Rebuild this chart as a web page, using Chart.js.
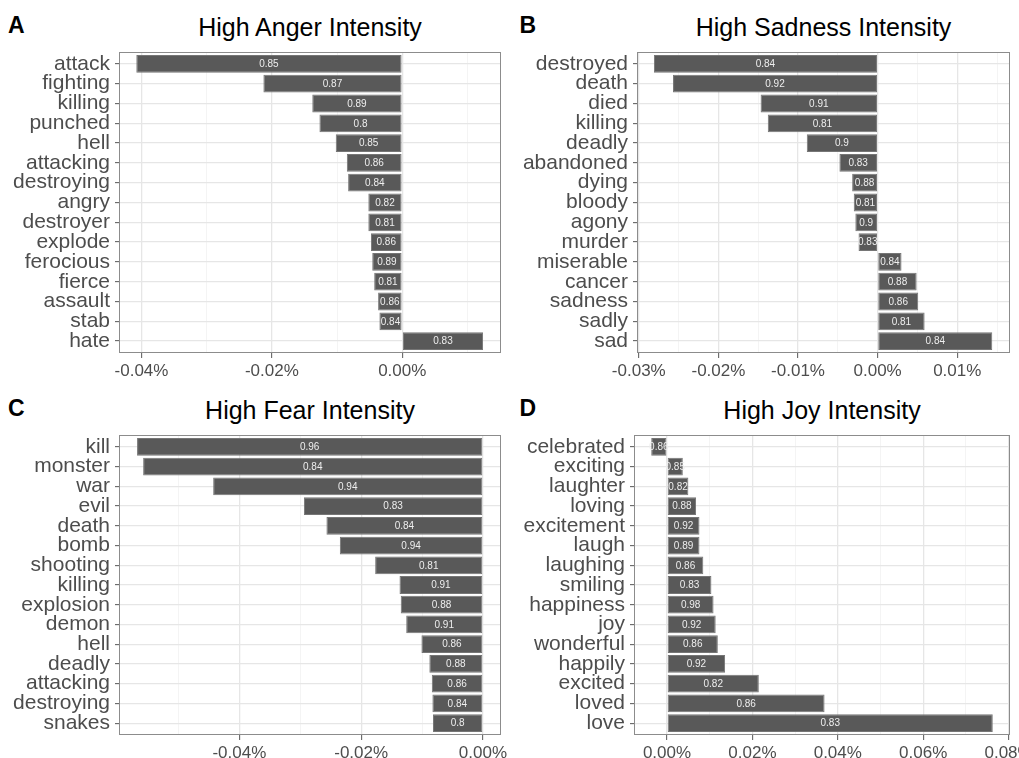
<!DOCTYPE html>
<html><head><meta charset="utf-8">
<script src="https://cdn.jsdelivr.net/npm/chart.js@4.4.1/dist/chart.umd.min.js"></script>
<style>
html,body{margin:0;padding:0;background:#fff;overflow:hidden;width:1019px;height:758px;position:relative;}
canvas{position:absolute;}
.title{position:absolute;font-family:"Liberation Sans",Arial,sans-serif;font-size:25px;line-height:25px;color:#000;text-align:center;white-space:nowrap;}
.letter{position:absolute;font-family:"Liberation Sans",Arial,sans-serif;font-weight:bold;font-size:23px;line-height:23px;color:#000;}
</style></head><body>
<div class="letter" style="left:8px;top:14px;">A</div>
<div class="letter" style="left:519.5px;top:14px;">B</div>
<div class="letter" style="left:8px;top:397px;">C</div>
<div class="letter" style="left:519.5px;top:397px;">D</div>
<div class="title" style="left:120px;width:380px;top:15px;">High Anger Intensity</div>
<div class="title" style="left:638px;width:371px;top:15px;">High Sadness Intensity</div>
<div class="title" style="left:120px;width:380px;top:398px;">High Fear Intensity</div>
<div class="title" style="left:635px;width:374px;top:398px;">High Joy Intensity</div>
<script>
const angerWords = ['attack','fighting','killing','punched','hell','attacking','destroying','angry','destroyer','explode','ferocious','fierce','assault','stab','hate'];
const angerValues = [-0.0408,-0.0213,-0.0138,-0.0127,-0.0102,-0.0085,-0.0083,-0.0052,-0.0052,-0.0048,-0.0046,-0.0043,-0.0037,-0.0035,0.0124];
const angerCorr = [0.85,0.87,0.89,0.8,0.85,0.86,0.84,0.82,0.81,0.86,0.89,0.81,0.86,0.84,0.83];
const angerTicks = [-0.04,-0.03,-0.02,-0.01,0,0.01];
const angerTickLabels = ['-0.04%','','-0.02%','','0.00%',''];

const sadnessWords = ['destroyed','death','died','killing','deadly','abandoned','dying','bloody','agony','murder','miserable','cancer','sadness','sadly','sad'];
const sadnessValues = [-0.0281,-0.0257,-0.0147,-0.0138,-0.0089,-0.0048,-0.0032,-0.0030,-0.0028,-0.0024,0.0030,0.0049,0.0051,0.0059,0.0144];
const sadnessCorr = [0.84,0.92,0.91,0.81,0.9,0.83,0.88,0.81,0.9,0.83,0.84,0.88,0.86,0.81,0.84];
const sadnessTicks = [-0.03,-0.025,-0.02,-0.015,-0.01,-0.005,0,0.005,0.01,0.015];
const sadnessTickLabels = ['-0.03%','','-0.02%','','-0.01%','','0.00%','','0.01%',''];

const fearWords = ['kill','monster','war','evil','death','bomb','shooting','killing','explosion','demon','hell','deadly','attacking','destroying','snakes'];
const fearValues = [-0.0568,-0.0558,-0.0443,-0.0294,-0.0257,-0.0235,-0.0177,-0.0137,-0.0135,-0.0126,-0.0101,-0.0088,-0.0084,-0.0083,-0.0082];
const fearCorr = [0.96,0.84,0.94,0.83,0.84,0.94,0.81,0.91,0.88,0.91,0.86,0.88,0.86,0.84,0.8];
const fearTicks = [-0.05,-0.04,-0.03,-0.02,-0.01,0];
const fearTickLabels = ['','-0.04%','','-0.02%','','0.00%'];

const joyWords = ['celebrated','exciting','laughter','loving','excitement','laugh','laughing','smiling','happiness','joy','wonderful','happily','excited','loved','love'];
const joyValues = [-0.0037,0.0037,0.0050,0.0068,0.0076,0.0076,0.0085,0.0104,0.0109,0.0114,0.0119,0.0136,0.0215,0.0369,0.0763];
const joyCorr = [0.86,0.85,0.82,0.88,0.92,0.89,0.86,0.83,0.98,0.92,0.86,0.92,0.82,0.86,0.83];
const joyTicks = [0,0.01,0.02,0.03,0.04,0.05,0.06,0.07,0.08];
const joyTickLabels = ['0.00%','','0.02%','','0.04%','','0.06%','','0.08%'];

Chart.defaults.font.family = '"Liberation Sans", Arial, sans-serif';

const panels = [
  {words: angerWords, values: angerValues, corr: angerCorr, ticks: angerTicks, tickLabels: angerTickLabels, xMin: -0.0433, xMax: 0.0150, cLeft: 0, axisW: 120, plotW: 380, top: 52, plotH: 301, padR: 10},
  {words: sadnessWords, values: sadnessValues, corr: sadnessCorr, ticks: sadnessTicks, tickLabels: sadnessTickLabels, xMin: -0.0301, xMax: 0.0165, cLeft: 510, axisW: 128, plotW: 371, top: 52, plotH: 301, padR: 10},
  {words: fearWords, values: fearValues, corr: fearCorr, ticks: fearTicks, tickLabels: fearTickLabels, xMin: -0.0596, xMax: 0.0028, cLeft: 0, axisW: 120, plotW: 380, top: 435, plotH: 300, padR: 10},
  {words: joyWords, values: joyValues, corr: joyCorr, ticks: joyTicks, tickLabels: joyTickLabels, xMin: -0.0075, xMax: 0.0801, cLeft: 510, axisW: 125, plotW: 374, top: 435, plotH: 300, padR: 40}
];

const X_AXIS_H = 30;
const PAD_TOP = 2;

const decoPlugin = {
  id: 'deco',
  afterDatasetsDraw(chart, args, opts) {
    const ctx = chart.ctx;
    const meta = chart.getDatasetMeta(0);
    ctx.save();
    ctx.font = '10px "Liberation Sans", Arial, sans-serif';
    ctx.fillStyle = '#eeeeee';
    ctx.textAlign = 'center';
    ctx.textBaseline = 'middle';
    meta.data.forEach((el, i) => {
      ctx.fillText(String(opts.labels[i]), (el.x + el.base) / 2, el.y + 0.5);
    });
    ctx.restore();
  },
  afterDraw(chart) {
    const a = chart.chartArea;
    const ctx = chart.ctx;
    ctx.save();
    ctx.strokeStyle = '#8c8c8c';
    ctx.lineWidth = 1;
    ctx.strokeRect(Math.round(a.left) - 0.5, Math.round(a.top) + 0.5, Math.round(a.right - a.left) + 1, Math.round(a.bottom - a.top) - 1);
    ctx.restore();
  }
};

function zeroPad(scale) {
  scale.paddingLeft = 0; scale.paddingRight = 0; scale.paddingTop = 0; scale.paddingBottom = 0;
}

panels.forEach(p => {
  const cv = document.createElement('canvas');
  const w = p.axisW + p.plotW + p.padR;
  const h = PAD_TOP + p.plotH + X_AXIS_H;
  cv.width = w; cv.height = h;
  cv.style.left = p.cLeft + 'px';
  cv.style.top = (p.top - PAD_TOP) + 'px';
  cv.style.width = w + 'px'; cv.style.height = h + 'px';
  document.body.appendChild(cv);

  new Chart(cv, {
    type: 'bar',
    data: {
      datasets: [{
        data: p.values.map((v, i) => ({x: v, y: i})),
        backgroundColor: '#595959',
        borderColor: '#767676',
        borderWidth: 1,
        borderSkipped: false,
        barPercentage: 0.9,
        categoryPercentage: 1.0
      }]
    },
    options: {
      indexAxis: 'y',
      responsive: false,
      animation: false,
      devicePixelRatio: 1,
      layout: {padding: {top: PAD_TOP, right: p.padR, left: 0, bottom: 0}},
      plugins: {legend: {display: false}, tooltip: {enabled: false}, deco: {labels: p.corr}},
      scales: {
        x: {
          type: 'linear',
          position: 'bottom',
          offset: false,
          min: p.xMin,
          max: p.xMax,
          afterBuildTicks: (scale) => { scale.ticks = p.ticks.map(v => ({value: v})); },
          afterFit: (scale) => { scale.height = X_AXIS_H; zeroPad(scale); },
          border: {display: false},
          grid: {
            offset: false,
            color: (c) => p.tickLabels[c.index] ? '#e6e6e6' : '#efefef',
            lineWidth: (c) => p.tickLabels[c.index] ? 1.3 : 0.7,
            tickColor: (c) => p.tickLabels[c.index] ? '#555555' : 'rgba(0,0,0,0)',
            tickWidth: 1,
            tickLength: 5
          },
          ticks: {
            autoSkip: false,
            maxRotation: 0,
            padding: 3,
            color: '#4d4d4d',
            font: {size: 17},
            callback: (v, i) => p.tickLabels[i]
          }
        },
        y: {
          type: 'linear',
          position: 'left',
          offset: false,
          bounds: 'data',
          reverse: true,
          min: -0.6,
          max: 14.6,
          afterBuildTicks: (scale) => { scale.ticks = p.words.map((w, i) => ({value: i})); },
          afterFit: (scale) => { scale.width = p.axisW; zeroPad(scale); },
          border: {display: false},
          grid: {
            offset: false,
            color: '#e6e6e6',
            lineWidth: 1.3,
            tickColor: '#555555',
            tickWidth: 1,
            tickLength: 5
          },
          ticks: {
            autoSkip: false,
            padding: 5,
            color: '#4d4d4d',
            font: {size: 21},
            callback: (v, i) => p.words[i]
          }
        }
      }
    },
    plugins: [decoPlugin]
  });
});
</script>
</body></html>
